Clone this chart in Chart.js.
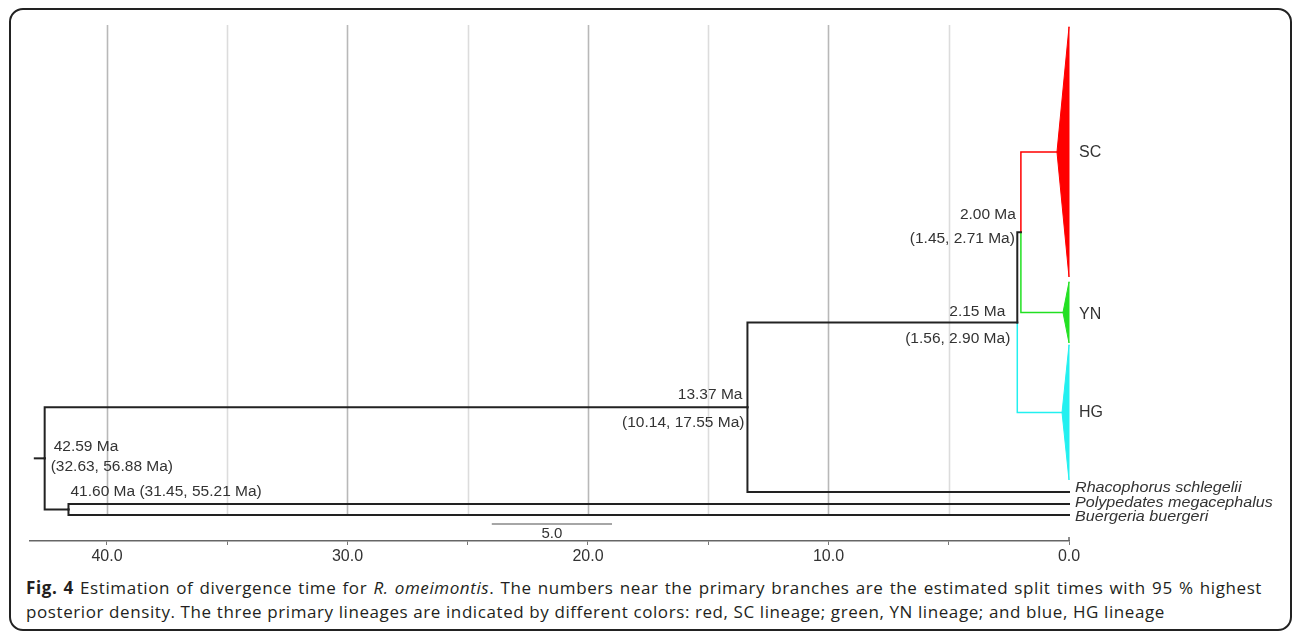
<!DOCTYPE html>
<html>
<head>
<meta charset="utf-8">
<script src="https://cdn.jsdelivr.net/npm/chart.js@4.4.0/dist/chart.umd.min.js"></script>
<style>
  html, body { margin: 0; padding: 0; background: #fff; }
  body { width: 1293px; height: 632px; position: relative; overflow: hidden; }
  .frame { position: absolute; left: 9px; top: 8px; width: 1283px; height: 623px; box-sizing: border-box;
           border: 2px solid #222; border-radius: 14px; }
  #chart { position: absolute; left: 0; top: 0; }
  .caption { position: absolute; left: 26px; font-family: "Open Sans", sans-serif; font-size: 17px;
             color: #231f20; white-space: nowrap; line-height: 22px; }
</style>
</head>
<body>
<div class="frame"></div>
<canvas id="chart" width="1293" height="575"></canvas>
<div class="caption" id="cap1" style="top:577px"><b>Fig. 4</b> Estimation of divergence time for <i>R. omeimontis</i>. The numbers near the primary branches are the estimated split times with 95 % highest</div>
<div class="caption" id="cap2" style="top:601px">posterior density. The three primary lineages are indicated by different colors: red, SC lineage; green, YN lineage; and blue, HG lineage</div>
<script>
// dated nodes (Ma) with 95% HPD
const nodeNames = ['root', 'polBue', 'rhaOme', 'omeimontis', 'scYn'];
const nodeAges = [42.59, 41.60, 13.37, 2.15, 2.00];
const hpdLow = [32.63, 31.45, 10.14, 1.56, 1.45];
const hpdHigh = [56.88, 55.21, 17.55, 2.90, 2.71];
const nodeChildren = [
  ['rhaOme', 'polBue'],
  ['Polypedates megacephalus', 'Buergeria buergeri'],
  ['omeimontis', 'Rhacophorus schlegelii'],
  ['scYn', 'HG'],
  ['SC', 'YN'],
];

// tips; the three lineages are collapsed into triangles
const tipNames = ['SC', 'YN', 'HG', 'Rhacophorus schlegelii', 'Polypedates megacephalus', 'Buergeria buergeri'];
const cladeCrownAges = [0.50, 0.25, 0.29, 0, 0, 0];
const tipColors = ['#ff0000', '#22e022', '#22f0f0', '#222', '#222', '#222'];

const tickValues = [40, 30, 20, 10, 0];
const scaleBarLength = 5.0;

// ---- layout (rows in pixel units of the y scale) ----
const tipRows = [[27, 277], [282, 343], [345, 480], [492, 492], [504, 504], [515, 515]];
const tipLabelDy = [1, 2, 0, -4, -1, 2];
const rootStemAge = 43.0;
const scaleBarStart = 24.0;
const scaleBarRow = 524;
// label offsets: [dx, dy] of the age line and of the HPD line, and text align
const labelPos = [
  { align: 'left', a: [9, -12], b: [6, 8] },
  { align: 'left', a: [2, -18], b: null },
  { align: 'right', a: [-5, -12], b: [-3, 16] },
  { align: 'right', a: [-12, -11], b: [-7, 16] },
  { align: 'right', a: [-5, -18], b: [-6, 6] },
];

const tipY = {};
tipNames.forEach((n, i) => { tipY[n] = (tipRows[i][0] + tipRows[i][1]) / 2; });
function rowOf(name) {
  const i = nodeNames.indexOf(name);
  if (i < 0) return tipY[name];
  const ch = nodeChildren[i];
  return (rowOf(ch[0]) + rowOf(ch[ch.length - 1])) / 2;
}
function ageOf(name) {
  const i = nodeNames.indexOf(name);
  return i < 0 ? cladeCrownAges[tipNames.indexOf(name)] : nodeAges[i];
}
function colorOf(name) {
  const i = tipNames.indexOf(name);
  return i < 0 ? '#222' : tipColors[i];
}

const datasets = [];
const lineBase = { type: 'line', showLine: true, pointRadius: 0, tension: 0, fill: false, clip: false,
  borderJoinStyle: 'miter', borderCapStyle: 'square' };

// root stem
const rootY = rowOf('root');
datasets.push({ ...lineBase, borderColor: '#222', borderWidth: 2,
  data: [{ x: rootStemAge, y: rootY }, { x: nodeAges[0], y: rootY }] });

// elbow branches
nodeNames.forEach((n, i) => {
  const py = rowOf(n);
  nodeChildren[i].forEach(c => {
    const cy = rowOf(c);
    const col = colorOf(c);
    datasets.push({ ...lineBase, borderColor: col, borderWidth: col === '#222' ? 2 : 1.5,
      data: [{ x: nodeAges[i], y: py }, { x: nodeAges[i], y: cy }, { x: ageOf(c), y: cy }] });
  });
});

// collapsed lineage triangles
tipNames.forEach((n, i) => {
  if (cladeCrownAges[i] === 0) return;
  const [t, b] = tipRows[i];
  datasets.push({ ...lineBase, fill: 'shape', backgroundColor: tipColors[i], borderColor: tipColors[i], borderWidth: 1,
    data: [{ x: 0, y: t }, { x: cladeCrownAges[i], y: tipY[n] }, { x: 0, y: b }, { x: 0, y: t }] });
});

// scale bar
datasets.push({ ...lineBase, borderColor: '#888', borderWidth: 1.5, borderCapStyle: 'butt',
  data: [{ x: scaleBarStart, y: scaleBarRow }, { x: scaleBarStart - scaleBarLength, y: scaleBarRow }] });

function drawText(ctx, text, x, y, align, font, sx) {
  ctx.save();
  ctx.font = font;
  ctx.fillStyle = '#333';
  ctx.textBaseline = 'middle';
  ctx.textAlign = align;
  ctx.translate(x, y);
  ctx.scale(sx, 1);
  ctx.fillText(text, 0, 0);
  ctx.restore();
}

const treePlugin = {
  id: 'treePlugin',
  beforeDatasetsDraw(chart) {
    const { ctx, scales: { x, y } } = chart;
    ctx.save();
    x.ticks.forEach(t => {
      if (t.value === 0) return;
      const px = Math.round(x.getPixelForValue(t.value)) + 0.5;
      ctx.strokeStyle = t.value % 10 === 0 ? '#b8b8b8' : '#dcdcdc';
      ctx.lineWidth = 1.6;
      ctx.beginPath();
      ctx.moveTo(px, y.getPixelForValue(25));
      ctx.lineTo(px, y.getPixelForValue(516));
      ctx.stroke();
    });
    ctx.restore();
  },
  afterDatasetsDraw(chart) {
    const { ctx, scales: { x, y } } = chart;
    const nodeFont = '15.5px "Liberation Sans", Arial, sans-serif';
    nodeNames.forEach((n, i) => {
      const px = x.getPixelForValue(nodeAges[i]);
      const py = y.getPixelForValue(rowOf(n));
      const p = labelPos[i];
      const age = nodeAges[i].toFixed(2) + ' Ma';
      const hpd = '(' + hpdLow[i].toFixed(2) + ', ' + hpdHigh[i].toFixed(2) + ' Ma)';
      if (p.b) {
        drawText(ctx, age, px + p.a[0], py + p.a[1], p.align, nodeFont, 1);
        drawText(ctx, hpd, px + p.b[0], py + p.b[1], p.align, nodeFont, 1);
      } else {
        drawText(ctx, age + ' ' + hpd, px + p.a[0], py + p.a[1], p.align, nodeFont, 1);
      }
    });
    const x0 = x.getPixelForValue(0);
    tipNames.forEach((n, i) => {
      const py = y.getPixelForValue(tipY[n]) + tipLabelDy[i];
      if (cladeCrownAges[i] > 0) {
        drawText(ctx, n, x0 + 10, py, 'left', '16px "Liberation Sans", Arial, sans-serif', 1);
      } else {
        drawText(ctx, n, x0 + 6, py, 'left', 'italic 14px "Liberation Sans", Arial, sans-serif', 1.15);
      }
    });
    const mid = x.getPixelForValue(scaleBarStart - scaleBarLength / 2);
    drawText(ctx, scaleBarLength.toFixed(1), mid, y.getPixelForValue(scaleBarRow) + 10, 'center',
      '15px "Liberation Sans", Arial, sans-serif', 1);
    // the 0.0 tick points up in the original
    ctx.save();
    ctx.strokeStyle = '#666';
    ctx.lineWidth = 1.5;
    ctx.beginPath();
    ctx.moveTo(x0, chart.chartArea.bottom);
    ctx.lineTo(x0, chart.chartArea.bottom - 4);
    ctx.stroke();
    ctx.restore();
  }
};

Chart.defaults.font.family = '"Liberation Sans", Arial, sans-serif';

new Chart(document.getElementById('chart'), {
  type: 'scatter',
  data: { datasets },
  options: {
    responsive: false,
    animation: false,
    devicePixelRatio: 1,
    layout: { padding: { left: 30, right: 224, top: 25, bottom: 8 } },
    plugins: { legend: { display: false }, tooltip: { enabled: false } },
    scales: {
      x: {
        type: 'linear', reverse: true, min: 0, max: 43.2,
        afterFit: s => { s.height = 26; },
        border: { display: true, color: '#666', width: 1.5 },
        grid: { drawOnChartArea: false, drawTicks: true, tickLength: 4, color: '#777', lineWidth: 1 },
        ticks: {
          stepSize: 5, autoSkip: false, includeBounds: false, maxRotation: 0, padding: 2,
          color: '#333', font: { size: 16 },
          callback: v => tickValues.includes(v) ? v.toFixed(1) : ''
        }
      },
      y: { type: 'linear', display: false, reverse: true, min: 25, max: 541 }
    }
  },
  plugins: [treePlugin]
});

// caption: last line sets the letter spacing, first line is justified to the full width
const cap1 = document.getElementById('cap1');
const cap2 = document.getElementById('cap2');
const ls = (1139 - cap2.getBoundingClientRect().width) / cap2.textContent.length;
cap1.style.letterSpacing = ls + 'px';
cap2.style.letterSpacing = ls + 'px';
const spaces1 = (cap1.textContent.match(/ /g) || []).length;
const ws = (1236 - cap1.getBoundingClientRect().width) / spaces1;
cap1.style.wordSpacing = Math.max(0, ws) + 'px';
</script>
</body>
</html>
